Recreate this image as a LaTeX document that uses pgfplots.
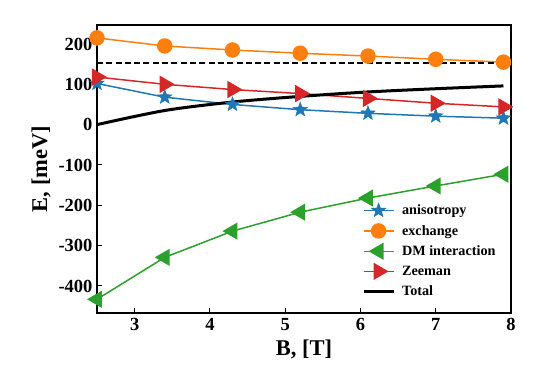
\documentclass[border=0pt]{standalone}
\usepackage{fontspec}
\setmainfont{Liberation Serif}
\usepackage{pgfplots}
\pgfplotsset{compat=1.18}
\definecolor{tabblue}{HTML}{1F77B4}
\definecolor{taborange}{HTML}{FF7F0E}
\definecolor{tabgreen}{HTML}{2CA02C}
\definecolor{tabred}{HTML}{D62728}
\pgfdeclareplotmark{fstar}{%
  \pgfpathmoveto{\pgfpointpolar{90}{\pgfplotmarksize}}%
  \pgfpathlineto{\pgfpointpolar{126}{0.42\pgfplotmarksize}}%
  \pgfpathlineto{\pgfpointpolar{162}{\pgfplotmarksize}}%
  \pgfpathlineto{\pgfpointpolar{198}{0.42\pgfplotmarksize}}%
  \pgfpathlineto{\pgfpointpolar{234}{\pgfplotmarksize}}%
  \pgfpathlineto{\pgfpointpolar{270}{0.42\pgfplotmarksize}}%
  \pgfpathlineto{\pgfpointpolar{306}{\pgfplotmarksize}}%
  \pgfpathlineto{\pgfpointpolar{342}{0.42\pgfplotmarksize}}%
  \pgfpathlineto{\pgfpointpolar{18}{\pgfplotmarksize}}%
  \pgfpathlineto{\pgfpointpolar{54}{0.42\pgfplotmarksize}}%
  \pgfpathclose\pgfusepathqfillstroke}
\begin{document}
\begin{tikzpicture}
\begin{axis}[
  at={(0pt,0pt)}, anchor=south west,
  width=414pt, height=288pt, scale only axis,
  xmin=2.5, xmax=8, ymin=-467, ymax=247,
  xtick={3,4,5,6,7,8},
  xticklabels={3,4,5,6,7,8},
  ytick={-400,-300,-200,-100,0,100,200},
  yticklabels={-400,-300,-200,-100,0,100,200},
  tick align=inside, xtick pos=bottom, ytick pos=left,
  major tick length=5pt,
  tick style={black, line width=1pt},
  axis line style={line width=1.3pt},
  /pgf/number format/assume math mode=true,
  ticklabel style={font=\bfseries\fontsize{18.5}{18.5}\selectfont},
  yticklabel style={xshift=-1pt},
  xticklabel style={yshift=-2pt},
  xlabel={B, [T]}, ylabel={E, [meV]},
  label style={font=\bfseries\fontsize{22.5}{22.5}\selectfont},
  xlabel style={at={(0.5,-0.128)}, anchor=center},
  ylabel style={at={(-0.135,0.5)}, anchor=center},
  legend style={at={(0.635,0.39)}, anchor=north west, draw=none, fill=none,
    font=\bfseries\fontsize{14.2}{14.2}\selectfont, row sep=5pt,
    inner sep=2pt, /tikz/every odd column/.append style={column sep=5pt}},
  legend cell align=left,
  legend image code/.code={\draw[mark repeat=2,mark phase=2] plot coordinates {(0pt,0pt) (15pt,0pt) (30pt,0pt)};},
]
\addplot[tabblue, line width=1.5pt, mark=fstar, mark size=7.5pt, mark options={solid, fill=tabblue, draw=tabblue, line width=0.5pt}]
 coordinates {(2.5,102) (3.4,68) (4.3,50) (5.2,37) (6.1,28) (7.0,21) (7.9,16)};
\addlegendentry{anisotropy}
\addplot[taborange, line width=1.5pt, mark=*, mark size=7pt, mark options={solid, fill=taborange, draw=taborange}]
 coordinates {(2.5,215) (3.4,195) (4.3,185) (5.2,177) (6.1,170) (7.0,162) (7.9,155)};
\addlegendentry{exchange}
\addplot[tabgreen, line width=1.5pt, mark=triangle*, mark size=8.5pt, mark options={solid, rotate=90, fill=tabgreen, draw=tabgreen}]
 coordinates {(2.5,-433) (3.4,-329) (4.3,-264) (5.2,-217) (6.1,-182) (7.0,-152) (7.9,-123)};
\addlegendentry{DM interaction}
\addplot[tabred, line width=1.5pt, mark=triangle*, mark size=8.5pt, mark options={solid, rotate=-90, fill=tabred, draw=tabred}]
 coordinates {(2.5,118) (3.4,100) (4.3,87) (5.2,77) (6.1,65) (7.0,53) (7.9,44)};
\addlegendentry{Zeeman}
\addplot[black, line width=3pt, smooth, no markers]
 coordinates {(2.5,0) (3.4,35) (4.3,56) (5.2,70) (6.1,81) (7.0,89) (7.9,96)};
\addlegendentry{Total}
\addplot[black, line width=1.5pt, dash pattern=on 6pt off 3.3pt, no markers, forget plot]
 coordinates {(2.5,153) (8,153)};
\end{axis}
\path (-97pt,-76pt) rectangle (444pt,313pt);
\end{tikzpicture}
\end{document}
